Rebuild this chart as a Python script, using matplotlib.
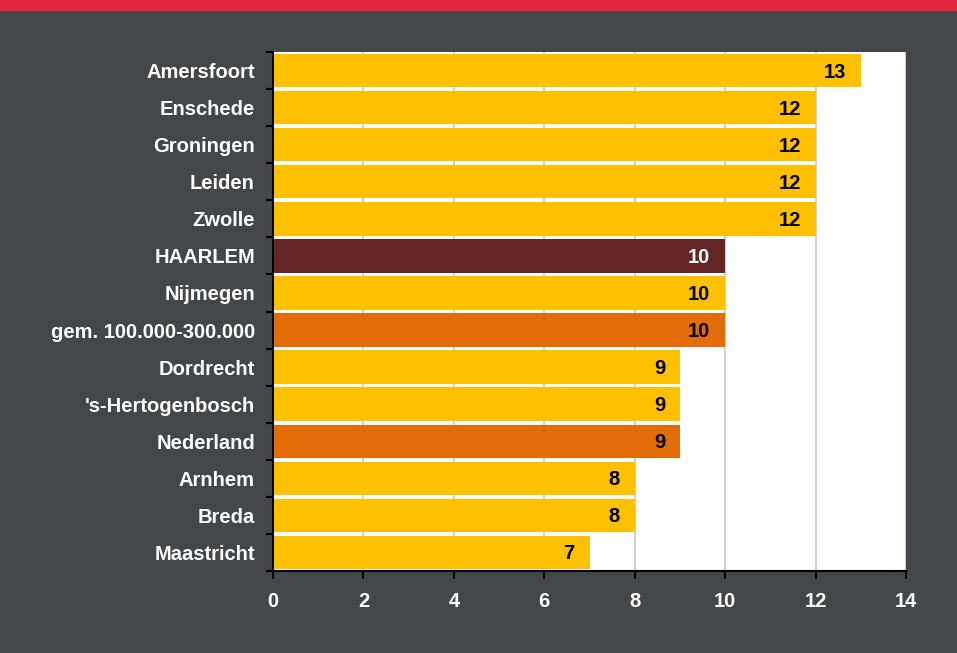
import matplotlib.pyplot as plt
from matplotlib.patches import Rectangle

# Gemeenten en waarden (van boven naar beneden)
gemeenten = ["Amersfoort", "Enschede", "Groningen", "Leiden", "Zwolle", "HAARLEM",
             "Nijmegen", "gem. 100.000-300.000", "Dordrecht", "'s-Hertogenbosch",
             "Nederland", "Arnhem", "Breda", "Maastricht"]
waarden = [13, 12, 12, 12, 12, 10, 10, 10, 9, 9, 9, 8, 8, 7]
soort = ["gemeente"] * 5 + ["haarlem", "gemeente", "referentie", "gemeente",
                            "gemeente", "referentie", "gemeente", "gemeente", "gemeente"]
x_ticks = [0, 2, 4, 6, 8, 10, 12, 14]

kleuren = {"gemeente": "#FFC000", "haarlem": "#632523", "referentie": "#E36C09"}
achtergrond = "#43474A"

plt.rcParams['font.family'] = ['Liberation Sans', 'DejaVu Sans']

fig = plt.figure(figsize=(9.57, 6.53), dpi=100, facecolor=achtergrond)
fig.patches.append(Rectangle((0, 1 - 10 / 653), 1, 10 / 653, transform=fig.transFigure,
                             color="#E2263F", zorder=0))

ax = fig.add_axes([273 / 957, 1 - 571 / 653, 633 / 957, 519 / 653])
ax.set_facecolor("white")

posities = list(range(len(gemeenten)))
ax.barh(posities, waarden, height=0.9, color=[kleuren[s] for s in soort], zorder=2)

for p, w, s in zip(posities, waarden, soort):
    ax.text(w - 0.33, p + 0.04, str(w), ha="right", va="center", fontsize=14.5,
            fontweight="bold", color="white" if s == "haarlem" else "black", zorder=3)

ax.set_xlim(0, 14)
ax.set_ylim(len(gemeenten) - 0.5, -0.5)
ax.set_xticks(x_ticks)
ax.set_yticks(posities)
ax.set_yticklabels(gemeenten)
ax.set_yticks([p + 0.5 for p in [-1] + posities], minor=True)

ax.grid(axis="x", color="#C8C8C8", linewidth=1.2, zorder=1)
ax.set_axisbelow(True)

ax.tick_params(axis="y", which="major", length=0, pad=13, labelsize=14.5, labelcolor="white")
ax.tick_params(axis="y", which="minor", length=5, width=1.5, color="black", direction="out")
ax.tick_params(axis="x", length=6, width=1.5, color="black", pad=9, labelsize=14.5,
               labelcolor="white")
for lbl in ax.get_yticklabels() + ax.get_xticklabels():
    lbl.set_fontweight("bold")

for kant in ["top", "right"]:
    ax.spines[kant].set_visible(False)
ax.spines["left"].set_linewidth(1.5)
ax.spines["bottom"].set_linewidth(1.5)

fig.savefig("out.png", dpi=100, facecolor=achtergrond)
